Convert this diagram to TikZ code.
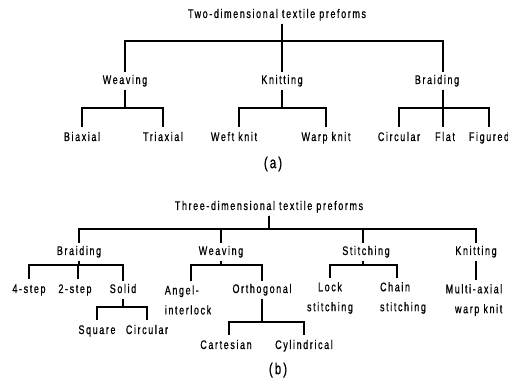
\documentclass[tikz,border=0pt]{standalone}
\usepackage{fontspec}
\setmainfont{Liberation Sans}[FakeStretch=0.72,LetterSpace=13,FakeBold=0.8]
% parent bottom -> bar at height #3 -> child top
\newcommand\edgeto[3]{\draw[conn] (#1) -- (#1 |- 0,#3) -| (#2);}
\begin{document}
\begin{tikzpicture}[x=1bp,y=-1bp,
  lbl/.style={inner xsep=0pt, font=\fontsize{12.5}{20}\selectfont},
  one/.style={lbl, inner ysep=3pt, text height=8.5pt, text depth=2.5pt},
  leaf/.style={one, inner ysep=5pt},
  two/.style={lbl, inner ysep=4pt},
  captext/.style={inner sep=0pt, font=\fontsize{16}{18}\selectfont},
  conn/.style={line width=1.3bp}]
\useasboundingbox (0,0) rectangle (508,381);

% ---------- (a) two-dimensional preforms ----------
\node[one] (ta) at (277,15) {Two-dimensional textile preforms};
\node[one] (wa) at (125,81) {Weaving};
\node[one] (ka) at (282,81) {Knitting};
\node[one] (ba) at (437,81) {Braiding};
\node[leaf] (bi) at (82,138) {Biaxial};
\node[leaf] (tr) at (163,138) {Triaxial};
\node[leaf] (wf) at (234,138) {Weft knit};
\node[leaf] (wp) at (326,138) {Warp knit};
\node[leaf] (ci) at (399,138) {Circular};
\node[leaf] (fl) at (445,138) {Flat};
\node[leaf] (fg) at (489,138) {Figured};
\node[captext] (capa) at (273,164) {(a)};

\coordinate (ta-o) at ([xshift=5pt]ta.south);
\coordinate (ba-i) at ([xshift=6pt]ba.north);
\coordinate (ba-o) at ([xshift=6pt]ba.south);
\coordinate (wf-i) at ([xshift=5pt]wf.north);
\coordinate (fl-i) at ([xshift=-2pt]fl.north);

\edgeto{ta-o}{wa.north}{41}
\edgeto{ta-o}{ka.north}{41}
\edgeto{ta-o}{ba-i}{41}
\edgeto{wa.south}{bi.north}{108}
\edgeto{wa.south}{tr.north}{108}
\edgeto{ka.south}{wf-i}{108}
\edgeto{ka.south}{wp.north}{108}
\edgeto{ba-o}{ci.north}{108}
\edgeto{ba-o}{fl-i}{108}
\edgeto{ba-o}{fg.north}{108}

% ---------- (b) three-dimensional preforms ----------
\node[one] (tb) at (269,207) {Three-dimensional textile preforms};
\node[one] (bb) at (79,252) {Braiding};
\node[one] (wb) at (221,252) {Weaving};
\node[one] (sb) at (366,252) {Stitching};
\node[one] (kb) at (476,252) {Knitting};
\node[leaf] (s4) at (29,290) {4-step};
\node[leaf] (s2) at (75,290) {2-step};
\node[one, inner ysep=3pt] (so) at (123,290) {Solid};
\node[leaf] (sq) at (97,331) {Square};
\node[leaf] (sc) at (147,331) {Circular};
\node[two, align=left] (ai) at (188,300) {Angel-\\interlock};
\node[one] (or) at (262,290) {Orthogonal};
\node[leaf] (ca) at (226,346) {Cartesian};
\node[leaf] (cy) at (304,346) {Cylindrical};
\node[two, align=center] (ls) at (330,298) {Lock\\stitching};
\node[two, align=left] (cs) at (403,298) {Chain\\stitching};
\node[two, align=right] (mw) at (474,300) {Multi-axial\\warp knit};
\node[captext] (capb) at (278,370) {(b)};

\coordinate (sb-i) at ([xshift=-3pt]sb.north);
\coordinate (sb-o) at ([xshift=-3pt]sb.south);
\coordinate (s2-i) at ([xshift=3pt]s2.north);
\coordinate (ai-i) at ([xshift=3pt]ai.north);
\coordinate (ca-i) at ([xshift=3pt]ca.north);
\coordinate (cs-i) at ([xshift=-6pt]cs.north);

\edgeto{tb.south}{bb.north}{229}
\edgeto{tb.south}{wb.north}{229}
\edgeto{tb.south}{sb-i}{229}
\edgeto{tb.south}{kb.north}{229}
\edgeto{bb.south}{s4.north}{265}
\edgeto{bb.south}{s2-i}{265}
\edgeto{bb.south}{so.north}{265}
\edgeto{so.south}{sq.north}{307}
\edgeto{so.south}{sc.north}{307}
\edgeto{wb.south}{ai-i}{265}
\edgeto{wb.south}{or.north}{265}
\edgeto{or.south}{ca-i}{322}
\edgeto{or.south}{cy.north}{322}
\edgeto{sb-o}{ls.north}{265}
\edgeto{sb-o}{cs-i}{265}
\draw[conn] (kb.south) -- (kb.south |- mw.north);
\end{tikzpicture}
\end{document}
